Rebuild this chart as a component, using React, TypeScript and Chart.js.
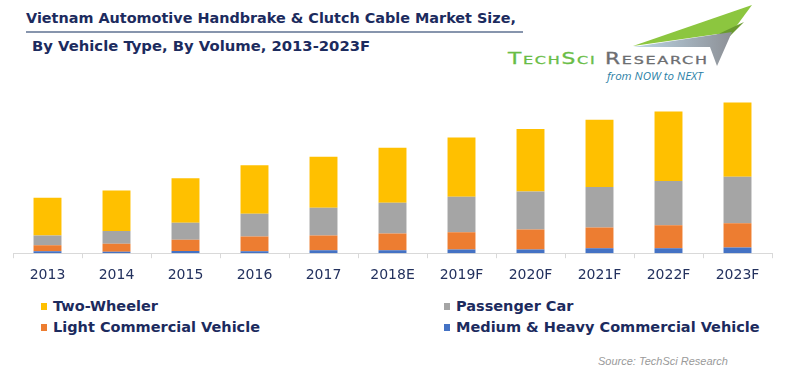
import React, { useEffect, useRef } from "react";
import { Chart, registerables } from "chart.js";

Chart.register(...registerables);

const years = ["2013", "2014", "2015", "2016", "2017", "2018E", "2019F", "2020F", "2021F", "2022F", "2023F"];
const mediumHeavy = [2, 1.5, 2.3, 2, 3, 3, 3.7, 3.7, 5, 5, 5.7];
const lightCommercial = [6, 8, 11.4, 15, 15, 17, 17.6, 20.3, 21, 23.3, 24.7];
const passengerCar = [10, 13, 17, 23, 28, 31, 35.7, 38.3, 41, 44.7, 47];
const twoWheeler = [38, 41, 45, 49, 51.6, 55.7, 60, 63.4, 68, 70.3, 75];

const seriesNames = ["Two-Wheeler", "Passenger Car", "Light Commercial Vehicle", "Medium & Heavy Commercial Vehicle"];
const colors = { tw: "#FFC000", pc: "#A5A5A5", lcv: "#ED7D31", mh: "#4472C4" };

const navy = "#1c2b5e";

export default function App() {
  const ref = useRef<HTMLCanvasElement | null>(null);
  useEffect(() => {
    if (!ref.current) return;
    const chart = new Chart(ref.current, {
      type: "bar",
      data: {
        labels: years,
        datasets: [
          { label: seriesNames[3], data: mediumHeavy, backgroundColor: colors.mh },
          { label: seriesNames[2], data: lightCommercial, backgroundColor: colors.lcv },
          { label: seriesNames[1], data: passengerCar, backgroundColor: colors.pc },
          { label: seriesNames[0], data: twoWheeler, backgroundColor: colors.tw },
        ],
      },
      options: {
        animation: false,
        responsive: true,
        maintainAspectRatio: false,
        datasets: { bar: { categoryPercentage: 1, barPercentage: 0.405 } },
        layout: { padding: { left: 13, right: 28, top: 0, bottom: 0 } },
        plugins: { legend: { display: false }, tooltip: { enabled: false }, title: { display: false } },
        scales: {
          x: {
            stacked: true,
            grid: { display: true, drawOnChartArea: false, drawTicks: true, tickLength: 5, color: "#d9d9d9" },
            border: { display: true, color: "#d9d9d9", width: 1 },
            ticks: { color: "#23315e", font: { family: "DejaVu Sans", size: 14 }, padding: 9, maxRotation: 0, autoSkip: false },
          },
          y: { stacked: true, display: false, min: 0, max: 158 },
        },
      },
    });
    return () => chart.destroy();
  }, []);

  return (
    <div style={{ position: "absolute", left: 0, top: 0, width: 800, height: 377, background: "#fff", overflow: "hidden" }}>
      <div style={{ position: "absolute", left: 26, top: 10, fontFamily: "DejaVu Sans", fontWeight: "bold", fontSize: 14.4, color: navy, whiteSpace: "nowrap" }}>
        Vietnam Automotive Handbrake &amp; Clutch Cable Market Size,
      </div>
      <div style={{ position: "absolute", left: 26, top: 31, width: 497, height: 1.5, background: "#8795ad" }} />
      <div style={{ position: "absolute", left: 32, top: 37, fontFamily: "DejaVu Sans", fontWeight: "bold", fontSize: 14.8, color: navy, whiteSpace: "nowrap" }}>
        By Vehicle Type, By Volume, 2013-2023F
      </div>
      <svg style={{ position: "absolute", left: 0, top: 0 }} width={800} height={90}>
        <defs>
          <linearGradient id="gg" x1="0" y1="0" x2="1" y2="0">
            <stop offset="0" stopColor="#bcd6e6" />
            <stop offset="1" stopColor="#8d9096" />
          </linearGradient>
        </defs>
        <polygon points="633,46 752,5 732,32" fill="#8cc63f" />
        <polygon points="712,37 744,22 730,36" fill="#6a9a2e" />
        <polygon points="633,47 732,32 717,66 710,47" fill="url(#gg)" />
      </svg>
      <div style={{ position: "absolute", left: 508, top: 50, fontFamily: "DejaVu Sans", fontSize: 15, fontVariant: "small-caps", letterSpacing: 1.2, whiteSpace: "nowrap", lineHeight: "18px", transform: "scaleX(1.45)", transformOrigin: "0 0", WebkitTextStroke: "0.3px currentColor" }}>
        <span style={{ color: "#69bd45" }}>TechSci</span>
        <span style={{ color: "#6d6e71" }}> Research</span>
      </div>
      <div style={{ position: "absolute", left: 607, top: 68, fontFamily: "Open Sans", fontStyle: "italic", fontSize: 11.5, color: "#2b7fa6", whiteSpace: "nowrap" }}>
        from NOW to NEXT
      </div>
      <div style={{ position: "absolute", left: 0, top: 97, width: 800, height: 196 }}>
        <canvas ref={ref} />
      </div>
      {[
        { name: seriesNames[0], c: colors.tw, x: 41, y: 306 },
        { name: seriesNames[1], c: colors.pc, x: 444, y: 306 },
        { name: seriesNames[2], c: colors.lcv, x: 41, y: 327 },
        { name: seriesNames[3], c: colors.mh, x: 444, y: 327 },
      ].map((it) => (
        <div key={it.name} style={{ position: "absolute", left: it.x, top: it.y - 10, height: 20, display: "flex", alignItems: "center", whiteSpace: "nowrap" }}>
          <span style={{ display: "inline-block", width: 6, height: 7, background: it.c, marginRight: 6 }} />
          <span style={{ fontFamily: "DejaVu Sans", fontWeight: "bold", fontSize: 14.5, color: navy }}>{it.name}</span>
        </div>
      ))}
      <div style={{ position: "absolute", left: 598, top: 355, fontFamily: "Liberation Sans", fontStyle: "italic", fontSize: 11, color: "#9a9a9a", whiteSpace: "nowrap" }}>
        Source: TechSci Research
      </div>
    </div>
  );
}
